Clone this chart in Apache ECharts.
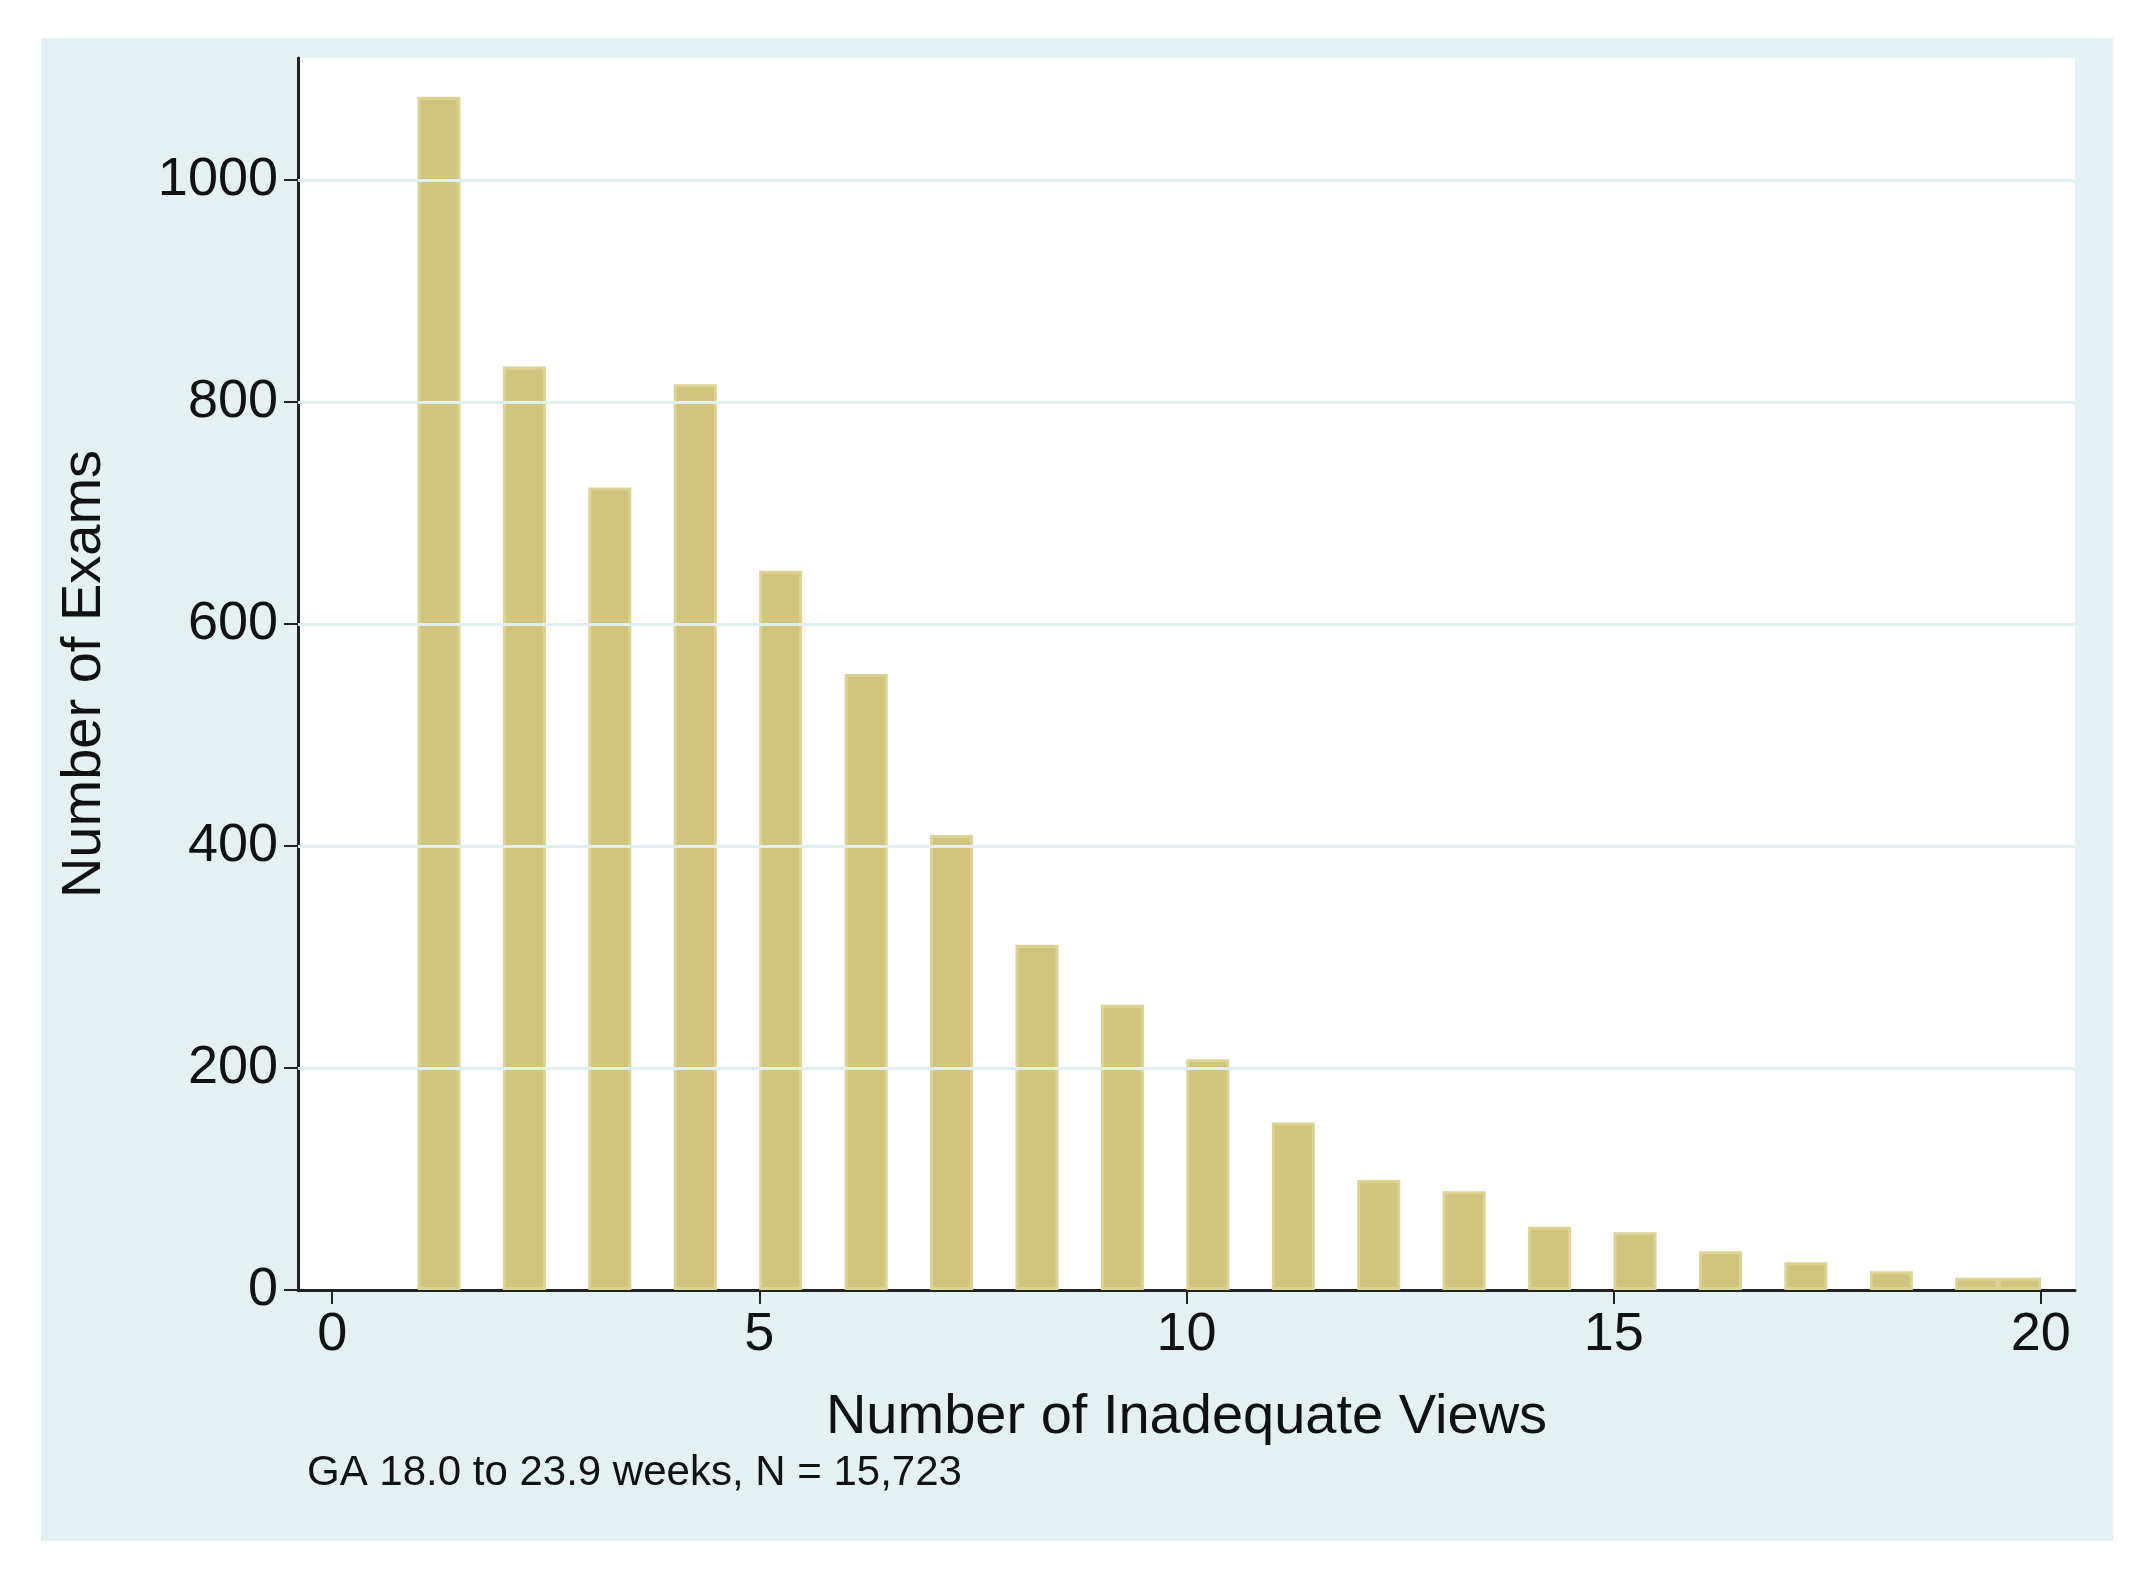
<!DOCTYPE html>
<html>
<head>
<meta charset="utf-8">
<script src="https://cdn.jsdelivr.net/npm/echarts@6/dist/echarts.min.js"></script>
<style>html,body{margin:0;padding:0;background:#fff}#chart{width:2141px;height:1570px}</style>
</head>
<body>
<div id="chart"></div>
<script>
// Histogram: number of inadequate views per exam
const views = [1, 2, 3, 4, 5, 6, 7, 8, 9, 10, 11, 12, 13, 14, 15, 16, 17, 18, 19, 19.5];
const exams = [1075, 832, 723, 816, 648, 555, 410, 311, 257, 208, 151, 99, 89, 57, 52, 35, 25, 17, 11, 11];
const xTicks = [0, 5, 10, 15, 20];
const yTicks = [0, 200, 400, 600, 800, 1000];

const chart = echarts.init(document.getElementById("chart"));
const font = "Liberation Sans, Arial, sans-serif";

chart.setOption({
  animation: false,
  backgroundColor: "#fff",
  graphic: [
    { type: "rect", z: -10, shape: { x: 41, y: 38, width: 2072, height: 1503 }, style: { fill: "#e4f1f2" } },
    { type: "text", left: 307, top: 1452, style: { text: "GA 18.0 to 23.9 weeks, N = 15,723", font: "42px " + font, fill: "#111" } },
  ],
  grid: { left: 298, right: 66, top: 58, bottom: 280, show: true, backgroundColor: "#fff", borderWidth: 0 },
  xAxis: {
    type: "value",
    min: -0.4,
    max: 20.4,
    name: "Number of Inadequate Views",
    nameLocation: "middle",
    nameGap: 100,
    nameTextStyle: { fontSize: 56, color: "#111", fontFamily: font },
    axisLine: { show: true, onZero: false, lineStyle: { color: "#222", width: 3 } },
    axisTick: { show: true, length: 14, customValues: xTicks, lineStyle: { color: "#222", width: 2 } },
    axisLabel: { customValues: xTicks, fontSize: 54, color: "#111", fontFamily: font, margin: 18 },
    splitLine: { show: false },
  },
  yAxis: {
    type: "value",
    min: 0,
    max: 1110,
    name: "Number of Exams",
    nameLocation: "middle",
    nameGap: 185,
    nameTextStyle: { fontSize: 56, color: "#111", fontFamily: font },
    axisLine: { show: true, onZero: false, lineStyle: { color: "#222", width: 3 } },
    axisTick: { show: true, length: 14, customValues: yTicks, lineStyle: { color: "#222", width: 2 } },
    axisLabel: { customValues: yTicks, formatter: (v) => String(v), fontSize: 54, color: "#111", fontFamily: font, margin: 20 },
    splitLine: { show: false },
  },
  series: [
    {
      // horizontal grid lines
      type: "line",
      data: [],
      markLine: {
        silent: true,
        symbol: "none",
        label: { show: false },
        lineStyle: { color: "#e2eff1", width: 3, type: "solid" },
        data: yTicks.slice(1).map((v) => ({ yAxis: v })),
      },
    },
    {
      type: "bar",
      barWidth: 43,
      data: views.map((v, i) => [v + 0.25, exams[i]]),
      itemStyle: { color: "#d1c47c", borderColor: "#dcd293", borderWidth: 3 },
    },
  ],
});
</script>
</body>
</html>
